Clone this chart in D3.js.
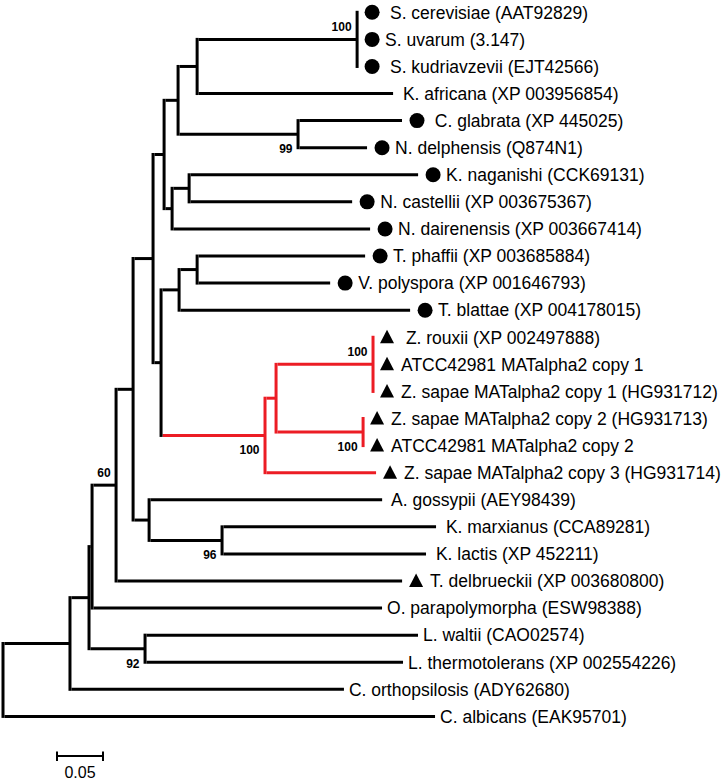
<!DOCTYPE html>
<html><head><meta charset="utf-8">
<script src="https://cdn.jsdelivr.net/npm/d3@7"></script>
<style>
body{margin:0;background:#fff}
text{font-family:"Liberation Sans",Arial,sans-serif;white-space:pre}
</style>
</head><body>
<svg id="chart" width="728" height="782"></svg>
<script>
// ---------- data ----------
const leafIds = ["Scer","Suva","Skud","Kafr","Cgla","Ndel","Knag","Ncas","Ndai","Tpha","Vpol","Tbla",
  "Zrou","Atc1","Zsa1","Zsa2","Atc2","Zsa3","Agos","Kmar","Klac","Tdel","Opar","Lwal","Lthe","Cort","Calb"];
const leafLabels = [" S. cerevisiae (AAT92829)","S. uvarum (3.147)"," S. kudriavzevii (EJT42566)",
  " K. africana (XP 003956854)"," C. glabrata (XP 445025)","N. delphensis (Q874N1)","K. naganishi (CCK69131)",
  "N. castellii (XP 003675367)","N. dairenensis (XP 003667414)","T. phaffii (XP 003685884)",
  "V. polyspora (XP 001646793)","T. blattae (XP 004178015)"," Z. rouxii (XP 002497888)",
  "ATCC42981 MATalpha2 copy 1","Z. sapae MATalpha2 copy 1 (HG931712)","Z. sapae MATalpha2 copy 2 (HG931713)",
  "ATCC42981 MATalpha2 copy 2","Z. sapae MATalpha2 copy 3 (HG931714)"," A. gossypii (AEY98439)",
  " K. marxianus (CCA89281)"," K. lactis (XP 452211)","T. delbrueckii (XP 003680800)",
  "O. parapolymorpha (ESW98388)","L. waltii (CAO02574)","L. thermotolerans (XP 002554226)",
  "C. orthopsilosis (ADY62680)","C. albicans (EAK95701)"];
const leafMarkers = ["circle","circle","circle","none","circle","circle","circle","circle","circle","circle",
  "circle","circle","triangle","triangle","triangle","triangle","triangle","triangle","none","none","none",
  "triangle","none","none","none","none","none"];
// [node, parent, branch length]
const branches = [
  ["root", null, 0],
  ["Calb","root",0.4696],
  ["nH","root",0.0728],
  ["Cort","nH",0.2978],
  ["nG","nH",0.0207],
  ["nLW","nG",0.0609],
  ["Lwal","nLW",0.2967],
  ["Lthe","nLW",0.2804],
  ["nF","nG",0.0033],
  ["Opar","nF",0.3152],
  ["nE","nF",0.0261],
  ["Tdel","nE",0.3109],
  ["nD","nE",0.0185],
  ["nK","nD",0.0174],
  ["Agos","nK",0.2533],
  ["nKL","nK",0.0793],
  ["Kmar","nKL",0.2326],
  ["Klac","nKL",0.2217],
  ["nC","nD",0.0217],
  ["n1","nC",0.0120],
  ["n2","n1",0.0152],
  ["n3","n2",0.0207],
  ["nS","n3",0.1739],
  ["Scer","nS",0],
  ["Suva","nS",0],
  ["Skud","nS",0],
  ["Kafr","n3",0.2130],
  ["nCG","n2",0.1304],
  ["Cgla","nCG",0.1130],
  ["Ndel","nCG",0.0750],
  ["n4","n1",0.0087],
  ["n5","n4",0.0185],
  ["Knag","n5",0.2489],
  ["Ncas","n5",0.1772],
  ["Ndai","n4",0.2152],
  ["nA","nC",0.0087],
  ["nB","nA",0.0196],
  ["nTV","nB",0.0196],
  ["Tpha","nTV",0.1826],
  ["Vpol","nTV",0.1446],
  ["Tbla","nB",0.2511],
  ["nRed","nA",0.1130],
  ["nR1","nRed",0.0120],
  ["nRZ","nR1",0.1054],
  ["Zrou","nRZ",0],
  ["Atc1","nRZ",0],
  ["Zsa1","nRZ",0],
  ["nRZ2","nR1",0.0946],
  ["Zsa2","nRZ2",0],
  ["Atc2","nRZ2",0],
  ["Zsa3","nRed",0.1207]
];
const bootstrapNodes  = ["nS","nCG","nRZ","nRZ2","nRed","nE","nKL","nLW"];
const bootstrapValues = ["100","99","100","100","100","60","96","92"];
const highlightClade = "nRed";
const scaleBarValue = 0.05;
const scaleBarLabel = "0.05";

// ---------- layout ----------
const svg = d3.select("#chart");
const SW = 3;
const RED = "#ec1c24";
const labelAbove = new Set(["nS","nRZ","nE"]);

const x = d3.scaleLinear().domain([0, 0.05]).range([3, 49]);
const y = d3.scalePoint().domain(leafIds).range([12.3, 716.4]);

const root = d3.stratify().id(d => d[0]).parentId(d => d[1])(branches);
root.eachBefore(n => { n.dist = n.parent ? n.parent.dist + n.data[2] : 0; });
root.eachAfter(n => {
  if (n.children) {
    n.y0 = d3.min(n.children, c => c.py);
    n.y1 = d3.max(n.children, c => c.py);
    n.py = (n.y0 + n.y1) / 2;
  } else n.py = y(n.id);
});
root.find(n => n.id === highlightClade).each(n => n.red = true);
const nodes = root.descendants();

const g = svg.append("g");
// horizontal branches
g.selectAll("line.h").data(nodes.filter(n => n.parent && n.data[2] > 0)).join("line")
  .attr("class","h")
  .attr("x1", n => x(n.parent.dist) + SW/2).attr("x2", n => x(n.dist))
  .attr("y1", n => n.py).attr("y2", n => n.py)
  .attr("stroke", n => n.red ? RED : "#000").attr("stroke-width", SW);
// vertical connectors
g.selectAll("line.v").data(nodes.filter(n => n.children)).join("line")
  .attr("class","v")
  .attr("x1", n => x(n.dist)).attr("x2", n => x(n.dist))
  .attr("y1", n => n.y0 - SW/2).attr("y2", n => n.y1 + SW/2)
  .attr("stroke", n => n.red ? RED : "#000").attr("stroke-width", SW);

// leaves
const leaves = leafIds.map((id, i) => {
  const n = root.find(d => d.id === id);
  return {id, label: leafLabels[i], marker: leafMarkers[i], x: x(n.dist), y: n.py};
});
g.selectAll("circle.m").data(leaves.filter(d => d.marker === "circle")).join("circle")
  .attr("cx", d => d.x + 15).attr("cy", d => d.y).attr("r", 7.5).attr("fill", "#000");
g.selectAll("path.t").data(leaves.filter(d => d.marker === "triangle")).join("path")
  .attr("d", d => {
    const p = d3.path(), cx = d.x + 14, cy = d.y;
    p.moveTo(cx, cy - 7.5); p.lineTo(cx + 7, cy + 6); p.lineTo(cx - 7, cy + 6); p.closePath();
    return p.toString();
  }).attr("fill", "#000");
g.selectAll("text.leaf").data(leaves).join("text")
  .attr("class","leaf")
  .attr("x", d => d.x + (d.marker === "none" ? 5 : 28))
  .attr("y", d => d.y).attr("dy", "0.36em")
  .attr("font-size", 17.5).attr("fill", "#000")
  .text(d => d.label);

// bootstrap values
const boot = bootstrapNodes.map((id, i) => {
  const n = root.find(d => d.id === id);
  return {id, v: bootstrapValues[i], x: x(n.dist), y: n.py};
});
g.selectAll("text.bs").data(boot).join("text")
  .attr("class","bs")
  .attr("x", d => d.x - 5.5)
  .attr("y", d => labelAbove.has(d.id) ? d.y - 8 : d.y + 19)
  .attr("text-anchor","end").attr("font-size", 12).attr("font-weight","bold")
  .text(d => d.v);

// scale bar
const sbX0 = 57, sbY = 756;
const sbX1 = sbX0 + (x(scaleBarValue) - x(0));
const sb = svg.append("g");
sb.append("line").attr("x1", sbX0).attr("x2", sbX1).attr("y1", sbY).attr("y2", sbY)
  .attr("stroke","#000").attr("stroke-width", 2);
[sbX0, sbX1].forEach(v => sb.append("line").attr("x1", v).attr("x2", v)
  .attr("y1", sbY - 4.5).attr("y2", sbY + 5).attr("stroke","#000").attr("stroke-width", 2));
sb.append("text").attr("x", (sbX0 + sbX1)/2).attr("y", 778).attr("text-anchor","middle")
  .attr("font-size", 16).text(scaleBarLabel);
</script>
</body></html>
